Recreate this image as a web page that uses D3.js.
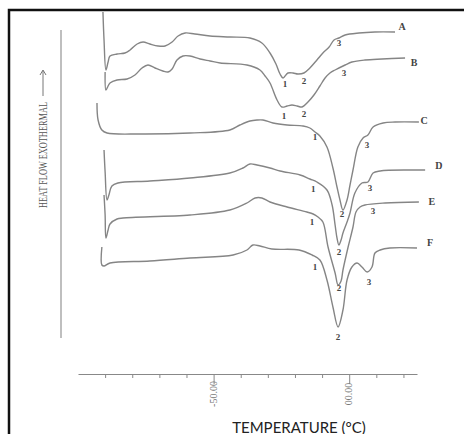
<!DOCTYPE html>
<html>
<head>
<meta charset="utf-8">
<script src="https://cdn.jsdelivr.net/npm/d3@7"></script>
<style>
body { margin: 0; background: #fff; }
svg { display: block; }
</style>
</head>
<body>
<svg id="chart" width="464" height="434"></svg>
<script>
// DSC traces: [temperature (°C), heat flow (arb. units, stacked offsets)]
var curveA = [[-90.8,36.2],[-90.4,33.4],[-89.7,30.4],[-88.9,31.2],[-88.2,31.8],[-85.6,32.0],[-82.7,32.1],[-80.8,32.4],[-78.2,33.0],[-76.0,33.2],[-73.5,33.0],[-70.5,32.8],[-67.9,32.8],[-65.3,33.2],[-63.1,33.8],[-60.5,34.1],[-56.9,34.0],[-51.3,33.8],[-44.0,33.7],[-36.6,33.6],[-32.2,33.1],[-29.2,32.1],[-27.0,31.0],[-25.5,30.0],[-24.4,29.6],[-22.6,30.1],[-20.7,30.1],[-18.9,30.0],[-16.7,30.1],[-14.5,30.6],[-11.9,31.4],[-9.7,32.1],[-7.4,32.7],[-5.6,33.4],[-3.8,33.6],[-1.5,33.9],[3.6,34.1],[9.5,34.2],[16.9,34.2]]
var curveB = [[-90.0,30.2],[-89.7,28.4],[-88.9,28.8],[-88.2,29.1],[-85.6,29.4],[-81.9,29.5],[-79.0,29.9],[-76.4,30.6],[-74.2,30.9],[-71.6,30.6],[-68.7,30.3],[-66.8,30.2],[-65.3,30.5],[-63.5,31.4],[-61.3,31.8],[-58.7,31.8],[-55.0,31.5],[-51.3,31.3],[-47.6,31.1],[-37.7,30.9],[-32.9,30.4],[-31.0,29.8],[-29.2,29.1],[-26.6,27.4],[-24.8,26.7],[-22.9,26.8],[-21.1,26.9],[-19.2,26.8],[-17.4,26.7],[-15.2,27.2],[-13.0,27.9],[-10.8,28.8],[-8.9,29.6],[-7.1,30.1],[-5.2,30.4],[-1.5,30.9],[1.0,31.2],[5.8,31.4],[12.1,31.5],[20.6,31.6]]
var curveC = [[-93.0,27.1],[-92.6,25.4],[-91.2,24.4],[-89.3,24.1],[-77.1,24.0],[-58.7,24.1],[-44.0,24.4],[-40.3,24.9],[-36.6,25.3],[-34.0,25.4],[-31.8,25.4],[-28.1,25.1],[-22.9,24.9],[-17.0,24.8],[-14.5,24.6],[-12.6,24.2],[-10.8,23.8],[-8.2,22.7],[-6.0,20.6],[-4.5,18.7],[-3.4,17.4],[-2.3,16.4],[-0.8,17.4],[0.3,18.9],[1.4,20.4],[3.2,22.7],[5.1,23.6],[6.9,23.9],[8.8,24.7],[12.5,25.1],[16.9,25.2],[25.7,25.2]]
var curveD = [[-90.4,22.4],[-90.0,20.2],[-89.3,17.4],[-88.6,17.9],[-87.5,18.8],[-85.3,19.1],[-73.5,19.3],[-58.7,19.6],[-44.0,20.1],[-39.2,20.6],[-36.6,21.0],[-34.0,20.9],[-29.2,20.6],[-25.5,20.3],[-18.1,19.9],[-14.5,19.5],[-11.9,19.2],[-8.2,18.4],[-6.3,16.9],[-5.2,14.9],[-4.5,13.6],[-3.8,12.9],[-3.0,13.4],[-2.3,14.1],[-0.8,15.2],[0.3,16.1],[2.1,18.1],[4.7,19.1],[6.9,19.2],[8.8,20.1],[11.4,20.3],[22.4,20.4],[28.0,20.4]]
var curveE = [[-90.4,17.9],[-90.0,15.9],[-89.7,13.6],[-88.9,14.4],[-88.2,15.0],[-85.6,15.5],[-83.4,15.6],[-58.7,15.9],[-44.0,16.4],[-37.7,17.1],[-34.7,17.6],[-32.2,17.6],[-29.2,17.2],[-22.9,16.7],[-15.6,16.2],[-13.3,16.0],[-11.5,15.7],[-9.7,15.2],[-7.8,12.7],[-5.2,10.1],[-4.1,8.9],[-3.0,9.3],[-2.3,10.4],[-0.4,12.7],[1.4,14.7],[2.5,16.2],[4.0,16.7],[5.8,16.9],[13.2,17.1],[25.7,17.2]]
var curveF = [[-91.2,12.7],[-91.2,10.9],[-90.4,10.8],[-88.2,11.1],[-73.5,11.3],[-58.7,11.6],[-42.8,11.9],[-37.7,12.4],[-35.5,12.9],[-32.9,12.8],[-28.5,12.5],[-18.5,12.4],[-13.7,11.9],[-10.8,11.4],[-8.2,9.4],[-6.0,6.7],[-4.1,4.7],[-2.3,6.4],[-0.8,9.4],[1.0,10.7],[2.9,11.1],[4.7,10.7],[6.6,10.2],[8.4,10.7],[9.5,12.1],[11.4,12.4],[15.0,12.6],[25.0,12.6]]

var sampleNames = ["A", "B", "C", "D", "E", "F"]
var sampleNamePos = [[19.5,34.8],[23.9,31.2],[27.6,25.4],[33.1,20.9],[30.5,17.3],[29.8,13.2]]

// peak numbers: [text, temperature, heat flow]
var peakLabels = [
    ["1",-23.7,29.0],["2",-16.7,29.3],["3",-3.8,33.1],
    ["1",-24.0,25.8],["2",-16.7,26.0],["3",-1.9,30.1],
    ["1",-12.6,23.7],["2",-2.7,16.0],["3",6.6,22.9],
    ["1",-13.3,18.5],["2",-3.8,12.2],["3",7.7,18.6],
    ["1",-13.7,15.2],["2",-3.8,8.6],["3",8.8,16.3],
    ["1",-12.6,10.7],["2",-4.1,3.7],["3",7.3,9.2]
]

var tempTicks = [-90,-80,-70,-60,-50,-40,-30,-20,-10,0,10,20]
var tempLabelVals = [-50, 0]
var tempLabelText = ["-50.00", "00.00"]

var svg = d3.select("#chart")

var x = d3.scaleLinear().domain([-100, 25]).range([78, 417])
var y = d3.scaleLinear().domain([0, 34]).range([374, 34])

// frame (right and bottom edges cut off in the scan)
svg.append("rect")
    .attr("x", 9).attr("y", 10)
    .attr("width", 470).attr("height", 440)
    .attr("fill", "none")
    .attr("stroke", "#111")
    .attr("stroke-width", 2.5)

// y "axis" line and label
svg.append("line")
    .attr("x1", 61).attr("x2", 61)
    .attr("y1", 30).attr("y2", 338)
    .attr("stroke", "#aaa")
    .attr("stroke-width", 1.5)

svg.append("text")
    .attr("transform", "translate(47,208) rotate(-90)")
    .attr("font-family", "Liberation Serif, serif")
    .attr("font-size", 12)
    .attr("fill", "#555")
    .attr("textLength", 106)
    .attr("lengthAdjust", "spacingAndGlyphs")
    .text("HEAT FLOW EXOTHERMAL")

svg.append("line")
    .attr("x1", 43).attr("x2", 43)
    .attr("y1", 96).attr("y2", 71)
    .attr("stroke", "#666").attr("stroke-width", 0.9)
svg.append("path")
    .attr("d", "M40,75 L43,70 L46,75")
    .attr("fill", "none")
    .attr("stroke", "#666").attr("stroke-width", 0.9)

// x axis
var xAxis = d3.axisBottom(x)
    .tickValues(tempTicks)
    .tickSize(4)
    .tickSizeOuter(0)
    .tickFormat("")

var gx = svg.append("g")
    .attr("transform", "translate(0,374)")
    .call(xAxis)
gx.select(".domain").attr("stroke", "#888").attr("stroke-width", 1.2)
gx.selectAll(".tick line")
    .attr("stroke", "#888")
    .attr("y2", d => tempLabelVals.includes(d) ? 10 : 4)

tempLabelVals.forEach(function(v, i){
    svg.append("text")
        .attr("transform", "translate(" + (x(v) + 3) + ",394) rotate(-90)")
        .attr("text-anchor", "middle")
        .attr("font-family", "Liberation Serif, serif")
        .attr("font-size", 10)
        .attr("fill", "#777")
        .text(tempLabelText[i])
})

svg.append("text")
    .attr("x", 299).attr("y", 433)
    .attr("text-anchor", "middle")
    .attr("font-family", "Lato, sans-serif")
    .attr("font-size", 15)
    .attr("fill", "#222")
    .text("TEMPERATURE (°C)")

// traces
var line = d3.line()
    .x(d => x(d[0]))
    .y(d => y(d[1]))
    .curve(d3.curveCatmullRom.alpha(0.5))

var curves = [curveA, curveB, curveC, curveD, curveE, curveF]
svg.selectAll(".trace")
    .data(curves)
    .join("path")
        .attr("class", "trace")
        .attr("d", d => line(d))
        .attr("fill", "none")
        .attr("stroke", "#858585")
        .attr("stroke-width", 1.4)

svg.selectAll(".sname")
    .data(sampleNames)
    .join("text")
        .attr("class", "sname")
        .attr("x", (d, i) => x(sampleNamePos[i][0]))
        .attr("y", (d, i) => y(sampleNamePos[i][1]))
        .attr("dy", "0.35em")
        .attr("text-anchor", "middle")
        .attr("font-family", "Liberation Serif, serif")
        .attr("font-weight", "bold")
        .attr("font-size", 10)
        .attr("fill", "#444")
        .text(d => d)

svg.selectAll(".peak")
    .data(peakLabels)
    .join("text")
        .attr("class", "peak")
        .attr("x", d => x(d[1]))
        .attr("y", d => y(d[2]))
        .attr("dy", "0.35em")
        .attr("text-anchor", "middle")
        .attr("font-family", "Liberation Serif, serif")
        .attr("font-weight", "bold")
        .attr("font-size", 9)
        .attr("fill", "#444")
        .text(d => d[0])
</script>
</body>
</html>
